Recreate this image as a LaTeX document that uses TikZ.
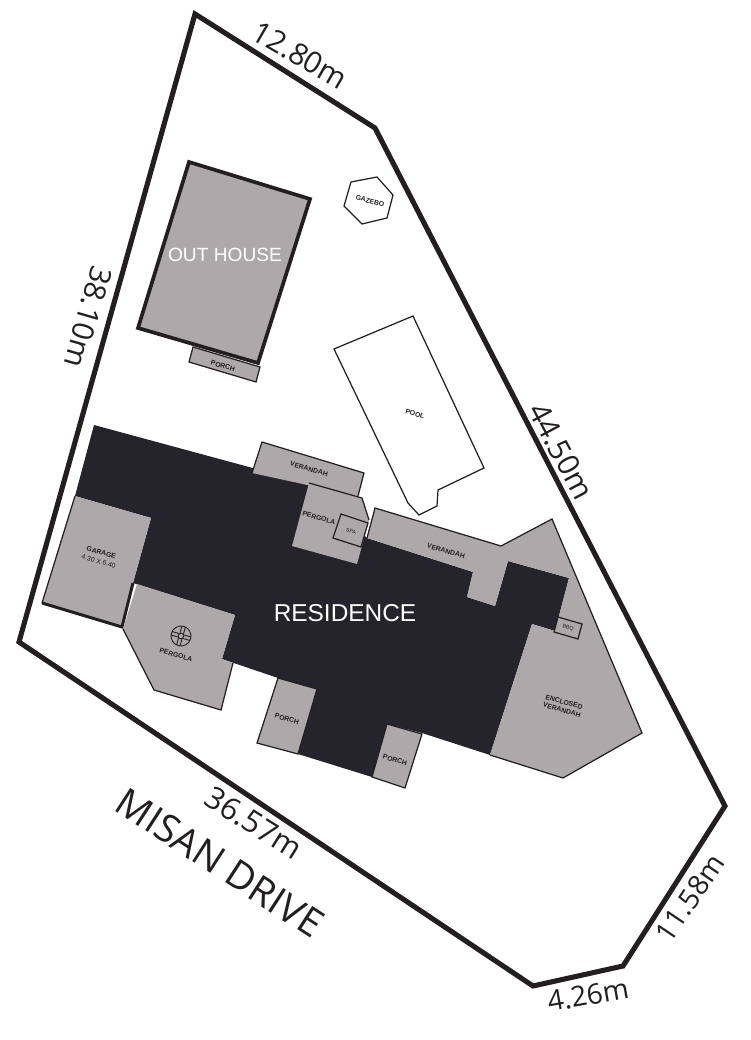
\documentclass[tikz,border=0pt]{standalone}
\usepackage{fontspec}
\setmainfont{Liberation Sans}
\newfontfamily\dimfont{Open Sans}
\definecolor{wallgrey}{HTML}{ADA9AA}
\definecolor{housedark}{HTML}{25232B}
\definecolor{inkline}{HTML}{231F20}

\begin{document}
\begin{tikzpicture}[x=0.02cm,y=-0.02cm]
	\tikzstyle{boundary} = [draw=inkline, line width=2.9pt, line join=miter]
	\tikzstyle{house} = [fill=housedark]
	\tikzstyle{area} = [fill=wallgrey]
	\tikzstyle{thinedge} = [draw=inkline, line width=0.7pt]
	\tikzstyle{thickedge} = [draw=inkline, line width=2.1pt]
	\tikzstyle{dimension} = [text=inkline, inner sep=0pt]
	\tikzstyle{bigname} = [text=white, inner sep=0pt]
	\tikzstyle{tinyname} = [text=inkline, font=\fontsize{3.9}{4.7}\selectfont\bfseries, inner sep=0pt, align=center, rotate=-16]

	\useasboundingbox (0,0) rectangle (750,1040);

	% block boundary
	\draw [boundary] (195,14) -- (375,128) -- (725,806) -- (623,966) -- (533,986) -- (19,642) -- cycle;

	% out house
	\draw [area, thinedge] (193,347) -- (260,367) -- (256,382) -- (189,362) -- cycle;
	\draw [area, thickedge] (189,162) -- (310,199) -- (258,363) -- (138,328) -- cycle;

	% gazebo and pool
	\draw [thinedge] (351,182) -- (377,177) -- (393,195) -- (387,218) -- (362,224) -- (344,206) -- cycle;
	\draw [thinedge] (413,316) -- (484,468) -- (438,490) -- (437,506) -- (419,515) -- (408,503) -- (334,349) -- cycle;

	% residence
	\fill [house] (94,425) -- (308,483) -- (367,538) -- (473,572) -- (467,597) -- (495,606) -- (508,561) -- (569,578) -- (555,631) -- (532,624) -- (490,755) -- (422,733) -- (387,724) -- (372,777) -- (298,754) -- (317,689) -- (278,678) -- (222,659) -- (235,615) -- (133,583) -- (151,518) -- (75,496) -- cycle;

	% verandahs and pergolas
	\fill [area] (262,442) -- (364,473) -- (358,496) -- (252,473) -- cycle;
	\draw [thinedge] (252,473) -- (262,442) -- (364,473) -- (358,496);
	\fill [area] (309,483) -- (362,498) -- (369,520) -- (357,564) -- (292,546) -- cycle;
	\draw [thinedge] (309,483) -- (362,498) -- (369,520);
	\draw [thinedge] (341,514) -- (368,523) -- (361,547) -- (333,538) -- cycle;
	\fill [area] (375,508) -- (501,546) -- (552,519) -- (642,733) -- (563,778) -- (490,755) -- (532,624) -- (555,631) -- (569,578) -- (508,561) -- (495,606) -- (467,597) -- (473,572) -- (367,538) -- cycle;
	\draw [thinedge] (367,538) -- (375,508) -- (501,546) -- (552,519) -- (642,733) -- (563,778) -- (490,755);
	\draw [area, thinedge] (558,617) -- (582,624) -- (578,639) -- (554,632) -- cycle;

	% garage
	\fill [area] (75,496) -- (151,518) -- (133,583) -- (122,627) -- (42,603) -- cycle;
	\draw [thinedge] (75,496) -- (42,603);
	\draw [thickedge, line width=1.7pt] (42,603) -- (122,627) -- (133,583);

	% pergola with fan
	\fill [area] (137,584) -- (235,615) -- (222,659) -- (233,663) -- (221,710) -- (154,690) -- (123,629) -- cycle;
	\draw [thinedge] (123,629) -- (154,690) -- (221,710) -- (233,663);
	\begin{scope}[shift={(181,636)}, rotate=-16]
		\draw [thinedge, line width=0.5pt] (0,0) circle (10);
		\draw [thinedge, line width=0.5pt] (0,0) circle (2.8);
		\foreach \fanangle in {0,90,180,270}
			\draw [thinedge, line width=0.5pt, rotate=\fanangle] (2.8,-1.8) -- (10,-1.8) (2.8,1.8) -- (10,1.8);
	\end{scope}

	% porches
	\draw [area, thinedge] (278,678) -- (317,689) -- (298,754) -- (257,743) -- cycle;
	\draw [area, thinedge] (387,724) -- (422,734) -- (405,788) -- (372,777) -- cycle;

	% names
	\node [bigname, font=\fontsize{13.9}{14}\selectfont] (residence) at (345,613) {RESIDENCE};
	\node [bigname, font=\fontsize{10.9}{11}\selectfont] (outhouse) at (225,255) {OUT HOUSE};
	\node [tinyname] (porchback) at (223,366) {PORCH};
	\node [tinyname] (gazebo) at (370,201) {GAZEBO};
	\node [tinyname] (pool) at (415,414) {POOL};
	\node [tinyname] (verandahtop) at (309,469) {VERANDAH};
	\node [tinyname] (pergolamid) at (319,518) {PERGOLA};
	\node [tinyname, font=\fontsize{3}{4}\selectfont] (spa) at (351,531) {SPA};
	\node [tinyname] (verandahright) at (446,551) {VERANDAH};
	\node [tinyname, font=\fontsize{3}{4}\selectfont] (bbq) at (568,628) {BBQ};
	\node [tinyname] (garage) at (100,557) {GARAGE\\[0.6pt]{\mdseries 4.30 X 6.40}};
	\node [tinyname] (pergolaleft) at (176,655) {PERGOLA};
	\node [tinyname] (porchleft) at (287,719) {PORCH};
	\node [tinyname] (porchright) at (395,760) {PORCH};
	\node [tinyname] (enclosed) at (563,706) {ENCLOSED\\VERANDAH};

	% dimensions
	\node [dimension, rotate=-30, font=\dimfont\fontsize{17}{17}\selectfont] (top) at (300,55) {12.80m};
	\node [dimension, rotate=-106, font=\dimfont\fontsize{17}{17}\selectfont] (left) at (88,317) {38.10m};
	\node [dimension, rotate=-62, font=\dimfont\fontsize{17}{17}\selectfont] (right) at (561,451) {44.50m};
	\node [dimension, rotate=-32, font=\dimfont\fontsize{17.5}{17}\selectfont] (bottom) at (254,823) {36.57m};
	\node [dimension, rotate=-33, font=\dimfont\fontsize{22}{22}\selectfont] (street) at (220,863) {MISAN DRIVE};
	\node [dimension, rotate=56, font=\dimfont\fontsize{16}{16}\selectfont] (corner) at (690,898) {11.58m};
	\node [dimension, rotate=10, font=\dimfont\fontsize{16}{16}\selectfont] (short) at (588,995) {4.26m};
\end{tikzpicture}
\end{document}
